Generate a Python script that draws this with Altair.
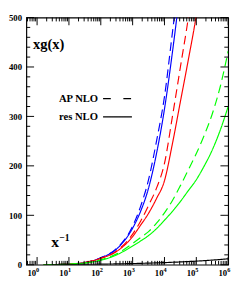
import altair as alt
import pandas as pd

# log10(1/x) positions at which the curves were read
exps = [0.2, 0.5, 1.0, 1.5, 2.0, 2.5, 3.0, 3.25, 3.5, 3.75, 4.0, 4.25, 4.5, 4.75, 5.0, 5.25, 5.5, 5.75, 6.0]

blue_ap = [0, 0.3, 1.5, 4.5, 14, 33, 78, 118, 172, 250, 340, 470, 600]
blue_res = [0, 0.3, 1.5, 4.5, 14, 32, 74, 108, 155, 225, 315, 430, 560]
red_ap = [0, 0.3, 1.5, 4.5, 13, 28, 62, 88, 120, 155, 205, 300, 400, 500, 620]
red_res = [0, 0.3, 1.5, 4.5, 13, 27, 57, 80, 104, 134, 170, 245, 330, 415, 505, 620]
green_ap = [0, 0.3, 1.2, 3.5, 10, 22, 43, 55, 67, 84, 105, 130, 160, 192, 225, 262, 305, 360, 432]
green_res = [0, 0.3, 1.2, 3.5, 9, 20, 38, 48, 59, 73, 90, 108, 128, 150, 172, 200, 232, 272, 320]
black_res = [0, 0.1, 0.4, 0.8, 1.2, 1.7, 2.4, 2.8, 3.3, 3.8, 4.3, 5.0, 5.7, 6.5, 7.3, 8.3, 9.4, 10.6, 12]

series = [
    ("blue", "AP", blue_ap), ("blue", "res", blue_res),
    ("red", "AP", red_ap), ("red", "res", red_res),
    ("green", "AP", green_ap), ("green", "res", green_res),
    ("black", "res", black_res),
]

x_major = [1, 10, 100, 1e3, 1e4, 1e5, 1e6]
x_exponents = ["0", "1", "2", "3", "4", "5", "6"]
y_major = [0, 100, 200, 300, 400, 500]

rows = []
for col, kind, vals in series:
    for e, v in zip(exps, vals):
        rows.append({"x": 10 ** e, "y": v, "set": col, "kind": kind, "curve": col + kind})
df = pd.DataFrame(rows)

W, H = 209, 256
XMIN, XMAX = 0.46, 1e6
xs = alt.Scale(type="log", domain=[XMIN, XMAX], nice=False)
ys = alt.Scale(domain=[0, 500], nice=False, zero=False)

x_minor = [m * 10 ** k for k in range(-1, 6) for m in range(2, 10) if XMIN <= m * 10 ** k <= XMAX]
y_minor = [v for v in range(20, 500, 20) if v % 100]

XAXIS = alt.Axis(values=x_major, labels=False, ticks=False, domain=False, grid=False, title=None)
YAXIS = alt.Axis(values=y_major, ticks=False, domain=False, grid=False, title=None,
                 labelPadding=5, labelFlush=False, labelOverlap=False)

lines = alt.Chart(df).mark_line(clip=True, strokeWidth=1.2, interpolate="monotone").encode(
    x=alt.X("x:Q", scale=xs, axis=XAXIS),
    y=alt.Y("y:Q", scale=ys, axis=YAXIS),
    color=alt.Color("set:N", scale=alt.Scale(domain=["blue", "red", "green", "black"],
                                             range=["#0000ff", "#ff0000", "#00ff00", "#000000"]),
                    legend=None),
    strokeDash=alt.StrokeDash("kind:N", scale=alt.Scale(domain=["AP", "res"], range=[[9, 5], [1, 0]]),
                              legend=None),
    detail="curve:N",
)


def xticks(vals, length, top):
    return alt.Chart(pd.DataFrame({"x": vals})).mark_rule(color="black", strokeWidth=1).encode(
        x=alt.X("x:Q", scale=xs, axis=XAXIS),
        y=alt.value(0 if top else H),
        y2=alt.value(length if top else H - length),
    )


def yticks(vals, length, right):
    return alt.Chart(pd.DataFrame({"y": vals})).mark_rule(color="black", strokeWidth=1).encode(
        y=alt.Y("y:Q", scale=ys, axis=YAXIS),
        x=alt.value(W if right else 0),
        x2=alt.value(W - length if right else length),
    )


ticks = [
    xticks(x_major, 8, False), xticks(x_major, 8, True),
    xticks(x_minor, 4, False), xticks(x_minor, 4, True),
    yticks(y_major, 8, False), yticks(y_major, 8, True),
    yticks(y_minor, 4, False), yticks(y_minor, 4, True),
]

# x tick labels: "10" with a raised exponent
xlab = pd.DataFrame({"x": x_major, "base": ["10"] * len(x_major), "exp": x_exponents})
xlab_base = alt.Chart(xlab).mark_text(
    font="Liberation Serif", fontWeight="bold", fontSize=9, align="right", baseline="alphabetic",
    dx=-1, color="black").encode(
    x=alt.X("x:Q", scale=xs, axis=XAXIS), y=alt.value(H + 12), text="base:N")
xlab_exp = alt.Chart(xlab).mark_text(
    font="Liberation Serif", fontWeight="bold", fontSize=6.5, align="left", baseline="alphabetic",
    dx=-1, color="black").encode(
    x=alt.X("x:Q", scale=xs, axis=XAXIS), y=alt.value(H + 7), text="exp:N")


def text(xv, yv, t, size, baseline="middle"):
    return alt.Chart(pd.DataFrame({"x": [xv], "y": [yv], "t": [t]})).mark_text(
        font="Liberation Serif", fontWeight="bold", fontSize=size, align="left",
        baseline=baseline, color="black").encode(
        x=alt.X("x:Q", scale=xs, axis=XAXIS), y=alt.Y("y:Q", scale=ys, axis=YAXIS), text="t:N")


labels = [
    text(0.74, 446, "xg(x)", 15),
    text(4.85, 336, "AP NLO", 11),
    text(4.85, 299, "res NLO", 11),
    text(2.8, 36, "x", 16, baseline="alphabetic"),
    text(5.0, 48, "\u22121", 10, baseline="alphabetic"),
]

legend_x = [118]
legend_x2 = [950]


def legend_line(yv, dash):
    return alt.Chart(pd.DataFrame({"x": legend_x, "x2": legend_x2, "y": [yv]})).mark_rule(
        color="black", strokeWidth=1.2, strokeDash=dash).encode(
        x=alt.X("x:Q", scale=xs, axis=XAXIS), x2="x2:Q",
        y=alt.Y("y:Q", scale=ys, axis=YAXIS))


legend_lines = [legend_line(336, [8, 13]), legend_line(299, [1, 0])]

chart = alt.layer(lines, *ticks, *legend_lines, xlab_base, xlab_exp, *labels).properties(
    width=W, height=H,
    padding={"left": 19, "top": 5, "right": 5, "bottom": 13},
    autosize=alt.AutoSizeParams(type="none"),
).configure_view(stroke="black", strokeWidth=1.2).configure_axis(
    labelFont="Liberation Serif", labelFontWeight="bold", labelFontSize=9, labelColor="black"
)

chart.save("out.html", embed_options={"renderer": "svg", "actions": False})
